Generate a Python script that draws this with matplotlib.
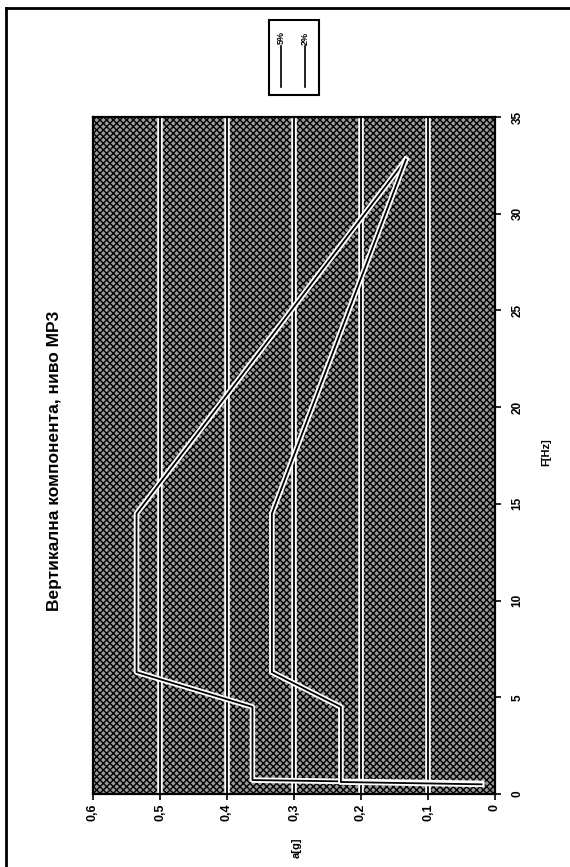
import matplotlib.pyplot as plt
import matplotlib.patheffects as pe
from matplotlib.patches import Rectangle
from matplotlib.lines import Line2D

plt.rcParams['font.family'] = ['Liberation Sans', 'DejaVu Sans']

# spectrum data: frequency [Hz] and acceleration [g]
f_2 = [0.55, 0.72, 4.5, 6.3, 14.5, 32.8]
a_2 = [0.02, 0.362, 0.362, 0.535, 0.535, 0.133]
f_5 = [0.5, 0.62, 4.5, 6.3, 14.5, 32.8]
a_5 = [0.02, 0.23, 0.23, 0.333, 0.333, 0.133]

a_ticks = [0.6, 0.5, 0.4, 0.3, 0.2, 0.1, 0]
a_ticklabels = ['0,6', '0,5', '0,4', '0,3', '0,2', '0,1', '0']
f_ticks = [0, 5, 10, 15, 20, 25, 30, 35]

title = 'Вертикална компонента, ниво MP3'

W, H = 570, 867
fig = plt.figure(figsize=(W / 100, H / 100), dpi=100)

def fx(px):
    return px / W

def fy(py):
    return 1 - py / H

# whole chart is drawn rotated 90 degrees counter-clockwise
ax = fig.add_axes([fx(93), fy(794), fx(495) - fx(93), fy(117) - fy(794)])
ax.set_facecolor('white')
ax.add_patch(Rectangle((0, 0), 1, 1, transform=ax.transAxes, facecolor='#9a9a9a',
                       edgecolor='black', hatch='xxxxx', lw=0, zorder=0))
plt.rcParams['hatch.linewidth'] = 0.6

halo = [pe.withStroke(linewidth=4, foreground='white')]
for g in [0.1, 0.2, 0.3, 0.4, 0.5]:
    ax.axvline(g, color='black', lw=1.3, path_effects=halo, zorder=2)

ax.plot(a_2, f_2, color='black', lw=1.3, path_effects=halo, zorder=3, label='2%')
ax.plot(a_5, f_5, color='black', lw=1.3, path_effects=halo, zorder=3, label='5%')

ax.set_xlim(0.6, 0)
ax.set_ylim(0, 35)
ax.set_xticks(a_ticks)
ax.set_xticklabels(a_ticklabels, rotation=90, fontsize=9, fontweight='bold')
ax.yaxis.tick_right()
ax.set_yticks(f_ticks)
ax.set_yticklabels([str(v) for v in f_ticks], rotation=90, fontsize=8.5,
                   fontweight='bold', va='center')
ax.tick_params(axis='x', length=4, width=1.2, pad=3)
ax.tick_params(axis='y', length=4, width=1.2, pad=8)
for s in ax.spines.values():
    s.set_linewidth(1.6)

fig.text(fx(55), fy(461), title, rotation=90, ha='center', va='center',
         fontsize=12.5, fontweight='bold')
fig.text(fx(297), fy(848), 'a[g]', rotation=90, ha='center', va='center',
         fontsize=8, fontweight='bold')
fig.text(fx(546), fy(452), 'F[Hz]', rotation=90, ha='center', va='center',
         fontsize=8, fontweight='bold')

# legend box, rotated like the rest of the chart
fig.add_artist(Rectangle((fx(269), fy(95)), fx(319) - fx(269), fy(20) - fy(95),
                         transform=fig.transFigure, fill=False, lw=1.5, ec='black'))
for x, lab in [(281, '5%'), (305, '2%')]:
    fig.add_artist(Line2D([fx(x), fx(x)], [fy(87), fy(46)], transform=fig.transFigure,
                          color='black', lw=1.2))
    fig.text(fx(x), fy(38), lab, rotation=90, ha='center', va='center',
             fontsize=6.5, fontweight='bold')

# outer chart frame
fig.add_artist(Line2D([fx(6), fx(6)], [fy(8), 0], transform=fig.transFigure,
                      color='black', lw=2))
fig.add_artist(Line2D([fx(6), 1], [fy(8), fy(8)], transform=fig.transFigure,
                      color='black', lw=2))

fig.savefig('out.png', dpi=100)
